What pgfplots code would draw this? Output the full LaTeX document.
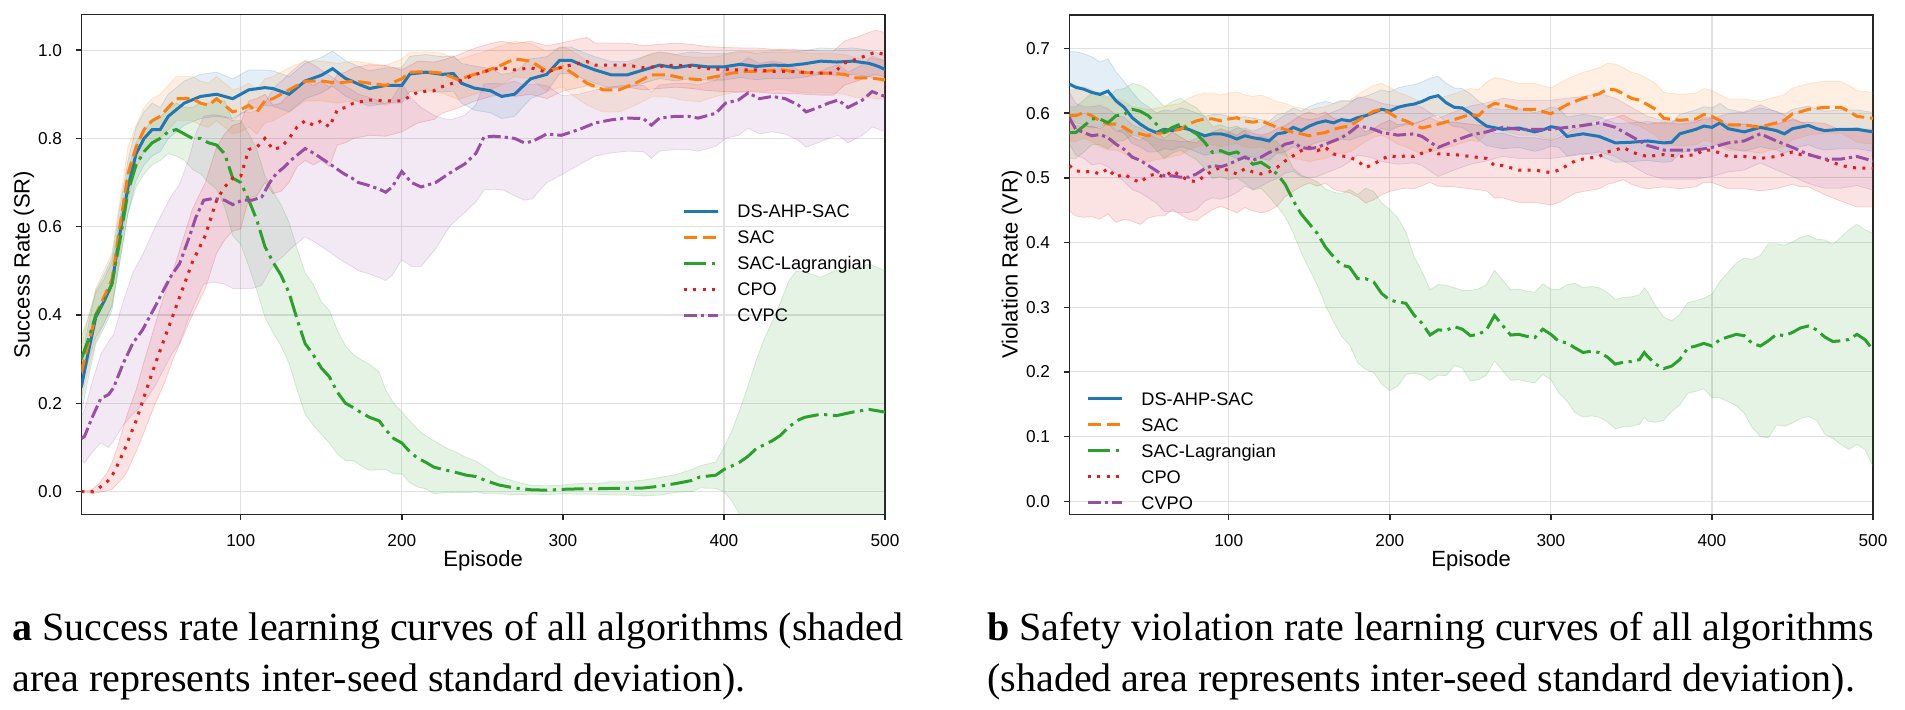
\documentclass[border=0pt]{standalone}
\usepackage{fontspec}
\setmainfont{Liberation Serif}
\newfontfamily\lsans{Liberation Sans}
\usepackage{pgfplots}
\pgfplotsset{compat=1.18}
\usepackage{pgfplotstable}
\usepgfplotslibrary{fillbetween}

\definecolor{cblue}{RGB}{31,119,180}
\definecolor{corange}{RGB}{255,127,14}
\definecolor{cgreen}{RGB}{44,160,44}
\definecolor{cred}{RGB}{228,26,28}
\definecolor{cpurple}{RGB}{152,78,163}

\pgfplotstableread{
x m s
1 0.236 0.06
5 0.31 0.06
10 0.395 0.06
15 0.43 0.06
20 0.47 0.06
25 0.585 0.06
30 0.69 0.06
35 0.765 0.06
40 0.80 0.06
45 0.82 0.06
50 0.82 0.05
55 0.85 0.05
60 0.865 0.05
65 0.88 0.05
75 0.895 0.05
85 0.90 0.05
95 0.89 0.045
105 0.91 0.045
115 0.915 0.04
120 0.913 0.04
130 0.90 0.04
140 0.93 0.04
150 0.943 0.04
157 0.958 0.04
165 0.936 0.04
175 0.92 0.04
180 0.913 0.04
190 0.92 0.04
200 0.92 0.04
205 0.946 0.04
215 0.95 0.04
225 0.945 0.04
232 0.947 0.04
237 0.925 0.045
245 0.914 0.05
255 0.908 0.05
262 0.895 0.05
270 0.9 0.05
280 0.935 0.045
290 0.945 0.04
298 0.977 0.03
305 0.977 0.03
312 0.966 0.03
320 0.955 0.03
330 0.944 0.03
340 0.944 0.03
350 0.955 0.03
360 0.966 0.03
370 0.96 0.03
380 0.966 0.03
390 0.962 0.03
400 0.962 0.03
410 0.968 0.03
420 0.963 0.03
430 0.966 0.03
440 0.965 0.03
450 0.969 0.03
460 0.975 0.03
470 0.973 0.03
480 0.975 0.03
490 0.97 0.03
496 0.963 0.03
500 0.956 0.03
}\Lds

\pgfplotstableread{
x m s
1 0.27 0.06
5 0.33 0.06
10 0.40 0.06
15 0.44 0.06
20 0.48 0.06
25 0.60 0.06
30 0.72 0.06
35 0.78 0.05
40 0.82 0.05
45 0.84 0.05
50 0.85 0.05
55 0.87 0.05
60 0.89 0.05
70 0.89 0.05
75 0.88 0.05
80 0.875 0.05
85 0.89 0.05
90 0.875 0.05
95 0.86 0.05
100 0.865 0.05
105 0.875 0.05
110 0.86 0.05
115 0.885 0.05
120 0.89 0.05
130 0.91 0.05
140 0.93 0.045
150 0.93 0.045
160 0.925 0.045
170 0.93 0.045
180 0.925 0.045
190 0.92 0.045
200 0.935 0.045
205 0.95 0.045
215 0.951 0.045
225 0.948 0.045
235 0.933 0.045
245 0.945 0.045
250 0.95 0.045
260 0.963 0.045
270 0.98 0.04
280 0.975 0.04
290 0.952 0.045
300 0.962 0.045
305 0.95 0.05
315 0.925 0.05
325 0.91 0.05
335 0.91 0.05
345 0.925 0.05
355 0.944 0.05
365 0.944 0.05
375 0.936 0.05
385 0.933 0.05
395 0.94 0.045
405 0.948 0.045
415 0.952 0.045
425 0.952 0.045
435 0.956 0.045
445 0.95 0.045
455 0.948 0.045
465 0.948 0.045
475 0.945 0.045
482 0.937 0.045
490 0.937 0.045
500 0.933 0.045
}\Lsac

\pgfplotstableread{
x m s
1 0.30 0.05
5 0.34 0.05
10 0.40 0.05
15 0.43 0.05
20 0.47 0.05
25 0.57 0.05
30 0.68 0.05
35 0.74 0.05
40 0.77 0.05
45 0.79 0.05
50 0.80 0.05
55 0.815 0.05
60 0.82 0.06
65 0.81 0.06
70 0.80 0.07
75 0.80 0.08
80 0.79 0.09
85 0.785 0.10
90 0.765 0.12
95 0.71 0.13
100 0.70 0.14
105 0.66 0.15
110 0.615 0.16
115 0.555 0.16
120 0.52 0.16
125 0.49 0.16
130 0.45 0.16
135 0.39 0.16
140 0.335 0.16
145 0.31 0.16
150 0.28 0.15
155 0.26 0.15
160 0.225 0.14
165 0.20 0.13
170 0.19 0.12
175 0.178 0.12
180 0.168 0.12
186 0.16 0.11
190 0.14 0.09
195 0.12 0.08
200 0.11 0.07
205 0.09 0.07
210 0.075 0.065
215 0.066 0.06
220 0.055 0.06
228 0.048 0.05
235 0.042 0.045
240 0.037 0.04
246 0.034 0.035
252 0.025 0.03
260 0.015 0.02
270 0.008 0.015
280 0.004 0.01
290 0.003 0.01
300 0.005 0.01
310 0.006 0.012
320 0.006 0.012
330 0.007 0.015
340 0.007 0.015
350 0.008 0.018
360 0.012 0.02
370 0.018 0.02
380 0.025 0.025
385 0.033 0.025
395 0.037 0.03
400 0.05 0.05
405 0.058 0.08
410 0.067 0.12
415 0.08 0.16
420 0.097 0.2
425 0.106 0.24
430 0.115 0.27
435 0.127 0.3
440 0.145 0.33
445 0.16 0.34
450 0.168 0.33
460 0.175 0.31
470 0.172 0.33
480 0.18 0.32
490 0.186 0.33
500 0.18 0.32
}\Llag

\pgfplotstableread{
x m s
1 0.0 0.001
5 0.0 0.002
8 0.0 0.005
12 0.008 0.01
17 0.022 0.02
20 0.035 0.03
23 0.056 0.04
28 0.096 0.06
30 0.115 0.065
35 0.16 0.07
40 0.215 0.08
47 0.29 0.09
52 0.34 0.1
58 0.40 0.1
64 0.46 0.11
70 0.52 0.12
78 0.58 0.12
85 0.66 0.12
90 0.69 0.12
95 0.71 0.12
100 0.715 0.12
105 0.775 0.11
110 0.78 0.11
115 0.80 0.1
120 0.775 0.1
125 0.78 0.1
130 0.80 0.1
135 0.826 0.09
140 0.84 0.09
145 0.83 0.09
150 0.84 0.09
155 0.826 0.09
160 0.865 0.08
165 0.87 0.08
170 0.88 0.08
180 0.887 0.08
190 0.885 0.08
200 0.885 0.07
210 0.905 0.07
220 0.908 0.065
225 0.917 0.06
235 0.929 0.06
245 0.944 0.06
255 0.955 0.06
262 0.96 0.06
270 0.955 0.06
280 0.96 0.06
290 0.95 0.06
300 0.962 0.055
310 0.97 0.055
315 0.974 0.055
320 0.966 0.05
330 0.966 0.05
340 0.966 0.05
350 0.96 0.05
360 0.963 0.05
370 0.966 0.05
380 0.963 0.05
390 0.958 0.05
400 0.956 0.05
410 0.955 0.05
420 0.955 0.05
430 0.952 0.05
440 0.952 0.05
450 0.95 0.05
460 0.948 0.05
468 0.948 0.05
475 0.971 0.05
482 0.979 0.05
490 0.99 0.05
494 0.995 0.05
500 0.99 0.05
}\Lcpo

\pgfplotstableread{
x m s
1 0.12 0.05
3 0.125 0.06
8 0.17 0.08
13 0.21 0.1
18 0.22 0.12
21 0.235 0.12
27 0.29 0.14
33 0.336 0.16
39 0.366 0.17
47 0.42 0.18
52 0.456 0.18
57 0.49 0.18
62 0.516 0.18
68 0.576 0.18
72 0.62 0.19
77 0.66 0.19
83 0.664 0.19
90 0.66 0.19
95 0.65 0.19
101 0.66 0.2
107 0.66 0.2
113 0.667 0.2
118 0.70 0.2
122 0.72 0.2
127 0.735 0.2
131 0.75 0.2
136 0.765 0.2
140 0.777 0.2
146 0.765 0.2
150 0.755 0.2
155 0.743 0.2
160 0.73 0.2
164 0.72 0.2
169 0.71 0.2
173 0.70 0.2
178 0.695 0.2
182 0.69 0.2
186 0.685 0.2
190 0.678 0.2
194 0.69 0.2
200 0.725 0.2
206 0.70 0.19
212 0.69 0.18
221 0.70 0.15
230 0.722 0.12
239 0.742 0.11
246 0.766 0.11
251 0.803 0.12
257 0.805 0.12
263 0.803 0.12
270 0.80 0.13
276 0.79 0.13
281 0.793 0.13
290 0.81 0.11
299 0.807 0.09
310 0.82 0.08
320 0.835 0.075
330 0.842 0.075
340 0.846 0.075
350 0.845 0.075
355 0.83 0.075
360 0.846 0.075
370 0.85 0.075
378 0.85 0.075
384 0.846 0.075
395 0.857 0.075
401 0.88 0.08
409 0.887 0.08
415 0.903 0.08
422 0.89 0.08
430 0.895 0.08
438 0.89 0.08
446 0.876 0.08
451 0.86 0.08
457 0.868 0.08
465 0.88 0.08
471 0.887 0.08
477 0.87 0.08
486 0.887 0.08
492 0.906 0.08
500 0.895 0.08
}\Lcvpo

\pgfplotstableread{
x m s
1 0.645 0.05
5 0.64 0.055
10 0.637 0.055
15 0.632 0.055
20 0.629 0.05
25 0.634 0.05
30 0.619 0.045
35 0.609 0.04
40 0.593 0.04
45 0.583 0.035
50 0.575 0.035
55 0.57 0.03
60 0.575 0.03
65 0.573 0.03
70 0.578 0.03
75 0.575 0.03
80 0.57 0.03
85 0.565 0.03
90 0.568 0.03
95 0.568 0.03
100 0.565 0.03
105 0.56 0.03
110 0.565 0.03
115 0.562 0.03
120 0.56 0.03
125 0.557 0.03
130 0.568 0.03
135 0.57 0.03
140 0.578 0.03
145 0.573 0.03
150 0.58 0.03
155 0.585 0.03
160 0.588 0.03
165 0.585 0.03
170 0.59 0.03
175 0.588 0.03
180 0.593 0.03
185 0.596 0.03
190 0.601 0.03
195 0.606 0.03
200 0.603 0.03
205 0.609 0.03
210 0.612 0.03
215 0.614 0.03
220 0.618 0.03
225 0.624 0.03
230 0.627 0.03
235 0.616 0.03
240 0.609 0.03
245 0.608 0.03
250 0.6 0.03
255 0.589 0.03
260 0.58 0.03
270 0.575 0.03
280 0.577 0.03
290 0.571 0.03
295 0.574 0.03
300 0.579 0.03
305 0.577 0.03
310 0.564 0.03
320 0.568 0.03
330 0.564 0.03
340 0.554 0.03
350 0.555 0.03
360 0.557 0.03
370 0.554 0.03
375 0.555 0.03
380 0.568 0.03
390 0.575 0.03
395 0.58 0.03
400 0.578 0.03
405 0.585 0.03
410 0.576 0.03
420 0.571 0.03
430 0.578 0.03
440 0.573 0.03
445 0.568 0.03
450 0.576 0.03
460 0.581 0.03
465 0.576 0.03
470 0.573 0.03
480 0.575 0.03
490 0.575 0.03
500 0.571 0.03
}\Rds

\pgfplotstableread{
x m s
1 0.596 0.04
5 0.596 0.04
10 0.601 0.04
15 0.596 0.04
20 0.588 0.04
25 0.583 0.04
30 0.583 0.04
35 0.578 0.04
40 0.57 0.04
45 0.568 0.04
50 0.565 0.04
55 0.568 0.04
60 0.57 0.04
65 0.573 0.04
70 0.575 0.04
75 0.583 0.04
80 0.588 0.04
85 0.591 0.04
90 0.591 0.04
95 0.588 0.04
100 0.591 0.04
105 0.593 0.04
110 0.588 0.04
115 0.586 0.04
120 0.588 0.04
125 0.583 0.04
130 0.578 0.04
135 0.575 0.04
140 0.57 0.04
145 0.568 0.04
150 0.565 0.04
155 0.568 0.04
160 0.57 0.04
165 0.575 0.04
170 0.578 0.04
175 0.58 0.04
180 0.588 0.04
185 0.596 0.04
190 0.603 0.04
195 0.606 0.04
200 0.6 0.04
205 0.592 0.04
210 0.588 0.04
215 0.582 0.04
220 0.577 0.04
225 0.58 0.04
230 0.583 0.04
240 0.59 0.04
250 0.598 0.04
255 0.596 0.04
260 0.608 0.04
265 0.615 0.04
270 0.613 0.04
280 0.606 0.04
290 0.606 0.04
300 0.599 0.04
310 0.613 0.04
320 0.623 0.04
330 0.63 0.04
335 0.637 0.04
340 0.636 0.04
345 0.63 0.04
350 0.623 0.04
355 0.62 0.04
360 0.613 0.04
365 0.606 0.04
370 0.592 0.04
380 0.589 0.04
390 0.591 0.04
395 0.598 0.04
400 0.595 0.04
410 0.582 0.04
420 0.582 0.04
430 0.578 0.04
435 0.582 0.04
440 0.585 0.04
445 0.589 0.04
450 0.599 0.04
455 0.602 0.04
460 0.606 0.04
470 0.609 0.04
480 0.609 0.04
485 0.603 0.04
490 0.595 0.04
500 0.592 0.04
}\Rsac

\pgfplotstableread{
x m s
1 0.57 0.04
5 0.57 0.04
10 0.58 0.04
15 0.591 0.04
20 0.591 0.04
25 0.585 0.04
30 0.596 0.04
35 0.598 0.04
40 0.606 0.04
45 0.603 0.04
50 0.596 0.04
55 0.583 0.04
60 0.57 0.04
65 0.578 0.04
70 0.583 0.04
75 0.575 0.04
80 0.568 0.04
85 0.555 0.04
90 0.539 0.04
95 0.542 0.04
100 0.537 0.04
105 0.54 0.04
110 0.532 0.04
115 0.521 0.04
120 0.524 0.04
125 0.516 0.045
130 0.506 0.05
135 0.49 0.05
140 0.465 0.05
145 0.444 0.06
150 0.429 0.07
155 0.414 0.08
160 0.393 0.09
165 0.378 0.1
170 0.365 0.11
175 0.362 0.12
180 0.344 0.13
185 0.344 0.14
190 0.339 0.14
195 0.321 0.14
200 0.311 0.14
205 0.308 0.13
210 0.306 0.11
215 0.288 0.09
220 0.275 0.08
225 0.257 0.07
230 0.265 0.07
235 0.264 0.07
240 0.27 0.06
245 0.266 0.06
250 0.256 0.07
255 0.258 0.07
260 0.265 0.07
265 0.287 0.07
270 0.272 0.07
275 0.257 0.07
280 0.258 0.07
285 0.255 0.07
290 0.253 0.07
295 0.266 0.07
300 0.258 0.07
305 0.247 0.08
310 0.245 0.09
315 0.237 0.1
320 0.23 0.1
325 0.232 0.1
330 0.23 0.1
335 0.223 0.1
340 0.212 0.1
345 0.215 0.1
350 0.216 0.1
355 0.219 0.1
358 0.23 0.1
360 0.224 0.1
365 0.212 0.09
370 0.205 0.08
375 0.209 0.07
380 0.219 0.07
385 0.237 0.07
390 0.24 0.07
395 0.244 0.07
400 0.24 0.08
405 0.25 0.09
410 0.254 0.1
415 0.258 0.11
420 0.256 0.12
425 0.244 0.13
430 0.24 0.14
435 0.248 0.15
440 0.258 0.14
445 0.256 0.14
450 0.261 0.14
455 0.268 0.14
460 0.271 0.14
465 0.265 0.14
470 0.254 0.15
475 0.247 0.15
480 0.248 0.16
485 0.25 0.17
490 0.258 0.17
495 0.25 0.17
500 0.234 0.18
}\Rlag

\pgfplotstableread{
x m s
1 0.519 0.07
5 0.511 0.07
10 0.509 0.07
15 0.51 0.07
20 0.506 0.07
25 0.514 0.07
30 0.501 0.07
35 0.506 0.07
40 0.498 0.065
45 0.493 0.065
50 0.503 0.065
55 0.506 0.065
60 0.501 0.06
65 0.511 0.06
70 0.503 0.06
75 0.496 0.06
80 0.494 0.06
85 0.503 0.06
90 0.511 0.06
95 0.516 0.06
100 0.511 0.06
105 0.506 0.06
110 0.514 0.06
115 0.509 0.06
120 0.506 0.06
125 0.509 0.06
130 0.516 0.06
135 0.526 0.055
140 0.534 0.055
145 0.542 0.055
150 0.547 0.055
155 0.542 0.055
160 0.547 0.055
165 0.537 0.055
170 0.534 0.055
175 0.532 0.055
180 0.526 0.055
185 0.516 0.055
190 0.521 0.055
195 0.529 0.055
200 0.534 0.055
205 0.532 0.05
210 0.534 0.05
215 0.533 0.05
225 0.543 0.05
230 0.537 0.05
240 0.536 0.05
250 0.533 0.05
260 0.53 0.05
265 0.519 0.05
270 0.519 0.05
280 0.512 0.05
290 0.512 0.05
300 0.508 0.05
305 0.512 0.05
310 0.519 0.05
315 0.526 0.05
320 0.529 0.05
330 0.533 0.05
335 0.54 0.05
340 0.543 0.05
345 0.547 0.05
350 0.54 0.05
355 0.536 0.05
360 0.533 0.05
370 0.536 0.05
380 0.533 0.05
390 0.536 0.05
395 0.543 0.05
400 0.543 0.05
410 0.533 0.05
420 0.533 0.05
430 0.53 0.05
440 0.533 0.05
450 0.54 0.05
455 0.536 0.05
460 0.536 0.05
470 0.529 0.055
480 0.519 0.055
490 0.515 0.06
500 0.515 0.06
}\Rcpo

\pgfplotstableread{
x m s
1 0.593 0.04
5 0.575 0.04
10 0.57 0.04
15 0.565 0.045
20 0.567 0.045
25 0.562 0.045
30 0.552 0.045
35 0.544 0.05
40 0.532 0.05
45 0.527 0.05
50 0.519 0.05
55 0.511 0.05
60 0.503 0.055
65 0.503 0.055
70 0.501 0.055
75 0.501 0.055
80 0.506 0.055
85 0.514 0.05
90 0.519 0.05
95 0.517 0.05
100 0.521 0.05
105 0.527 0.05
110 0.532 0.045
115 0.527 0.045
120 0.532 0.045
125 0.539 0.045
130 0.544 0.045
135 0.552 0.045
140 0.555 0.045
145 0.547 0.045
150 0.545 0.045
155 0.547 0.045
160 0.552 0.045
165 0.557 0.045
170 0.562 0.045
175 0.57 0.045
180 0.58 0.045
185 0.578 0.045
190 0.575 0.045
195 0.57 0.045
200 0.568 0.045
205 0.566 0.045
215 0.568 0.045
220 0.564 0.045
230 0.547 0.045
240 0.557 0.045
250 0.566 0.045
260 0.571 0.045
270 0.578 0.045
280 0.575 0.045
290 0.575 0.045
300 0.575 0.045
310 0.578 0.045
320 0.581 0.045
330 0.585 0.045
340 0.578 0.045
350 0.564 0.045
360 0.55 0.045
370 0.543 0.045
380 0.543 0.045
390 0.543 0.045
400 0.547 0.045
410 0.554 0.045
420 0.557 0.045
430 0.568 0.045
440 0.557 0.045
450 0.547 0.045
460 0.536 0.045
470 0.529 0.045
480 0.529 0.045
490 0.533 0.045
500 0.526 0.045
}\Rcvpo

\newcommand{\band}[3]{%
  \addplot[draw=#2, draw opacity=0.18, line width=0.4pt, forget plot, name path=#3U] table[x=x, y expr=\thisrow{m}+\thisrow{s}] {#1};
  \addplot[draw=#2, draw opacity=0.18, line width=0.4pt, forget plot, name path=#3L] table[x=x, y expr=\thisrow{m}-\thisrow{s}] {#1};
  \addplot[fill=#2, fill opacity=0.12, draw=none, forget plot] fill between[of=#3U and #3L];
}

\pgfplotsset{
  myaxis/.style={
    scale only axis, width=401.85pt, height=249.7pt, anchor=south west,
    xmin=1, xmax=500, xtick={100,200,300,400,500},
    tick align=outside, tick pos=left, major tick length=2.65pt,
    axis line style={black!85, line width=0.7pt},
    major tick style={black!85, line width=0.7pt},
    grid=major, major grid style={black!12, line width=0.6pt},
    /pgf/number format/assume math mode=true,
    tick label style={font=\lsans\fontsize{8.6}{10}\selectfont},
    xticklabel style={anchor=north, inner sep=0pt, yshift=-7.1pt},
    yticklabel style={anchor=east, inner sep=0pt, xshift=-6.8pt},
    yticklabel style={/pgf/number format/fixed, /pgf/number format/fixed zerofill, /pgf/number format/precision=1},
    label style={font=\lsans\fontsize{11}{13}\selectfont},
    xlabel style={at={(axis description cs:0.5,0)}, anchor=center, yshift=-23.5pt},
    ylabel style={at={([xshift=-28.65pt]axis description cs:0,0.5)}, anchor=center},
    legend cell align=left,
    legend style={draw=none, fill=none, inner sep=0pt, row sep=6.5pt, column sep=9pt,
      font=\lsans\fontsize{9.1}{11}\selectfont,
      nodes={inner sep=0pt, text height=6.5pt, text depth=0pt}, anchor=north west},
    legend image code/.code={\draw[#1] (0pt,0pt) -- (17pt,0pt);},
  },
  lds/.style={cblue, line width=1.5pt},
  lsac/.style={corange, line width=1.5pt, dash pattern=on 6.5pt off 2.8pt},
  llag/.style={cgreen, line width=1.5pt, dash pattern=on 11pt off 2.8pt on 1.6pt off 2.8pt},
  lcpo/.style={cred, line width=1.5pt, dash pattern=on 1.5pt off 3.2pt},
  lcvpo/.style={cpurple, line width=1.5pt, dash pattern=on 6.5pt off 2pt on 1.6pt off 2pt},
}

\begin{document}
\begin{tikzpicture}
\path (0pt,0pt) rectangle (952.5pt,354.5pt);

\begin{axis}[myaxis, at={(40.65pt,97.4pt)},
  ymin=-0.0514, ymax=1.08, ytick={0,0.2,0.4,0.6,0.8,1.0},
  xlabel={Episode}, ylabel={Success Rate (SR)},
  legend style={at={(axis description cs:0.7474,0.6205)}}]
\band{\Lds}{cblue}{lds}
\band{\Lsac}{corange}{lsac}
\band{\Llag}{cgreen}{llag}
\band{\Lcpo}{cred}{lcpo}
\band{\Lcvpo}{cpurple}{lcvpo}
\addplot[lds] table[x=x,y=m] {\Lds}; \addlegendentry{DS-AHP-SAC}
\addplot[lsac] table[x=x,y=m] {\Lsac}; \addlegendentry{SAC}
\addplot[llag] table[x=x,y=m] {\Llag}; \addlegendentry{SAC-Lagrangian}
\addplot[lcpo] table[x=x,y=m] {\Lcpo}; \addlegendentry{CPO}
\addplot[lcvpo] table[x=x,y=m] {\Lcvpo}; \addlegendentry{CVPC}
\end{axis}

\begin{axis}[myaxis, at={(534.65pt,97.4pt)},
  ymin=-0.020, ymax=0.752, ytick={0,0.1,0.2,0.3,0.4,0.5,0.6,0.7},
  xlabel={Episode}, ylabel={Violation Rate (VR)},
  legend style={at={(axis description cs:0.0208,0.2455)}}]
\band{\Rds}{cblue}{rds}
\band{\Rsac}{corange}{rsac}
\band{\Rlag}{cgreen}{rlag}
\band{\Rcpo}{cred}{rcpo}
\band{\Rcvpo}{cpurple}{rcvpo}
\addplot[lds] table[x=x,y=m] {\Rds}; \addlegendentry{DS-AHP-SAC}
\addplot[lsac] table[x=x,y=m] {\Rsac}; \addlegendentry{SAC}
\addplot[llag] table[x=x,y=m] {\Rlag}; \addlegendentry{SAC-Lagrangian}
\addplot[lcpo] table[x=x,y=m] {\Rcpo}; \addlegendentry{CPO}
\addplot[lcvpo] table[x=x,y=m] {\Rcvpo}; \addlegendentry{CVPO}
\end{axis}

\node[anchor=base west, inner sep=0pt, font=\fontsize{20}{24}\selectfont] at (6pt,34.5pt) {\textbf{a} Success rate learning curves of all algorithms (shaded};
\node[anchor=base west, inner sep=0pt, font=\fontsize{20}{24}\selectfont] at (6pt,9pt) {area represents inter-seed standard deviation).};
\node[anchor=base west, inner sep=0pt, font=\fontsize{20}{24}\selectfont] at (493.5pt,34.5pt) {\textbf{b} Safety violation rate learning curves of all algorithms};
\node[anchor=base west, inner sep=0pt, font=\fontsize{20}{24}\selectfont] at (493.5pt,9pt) {(shaded area represents inter-seed standard deviation).};
\end{tikzpicture}
\end{document}
